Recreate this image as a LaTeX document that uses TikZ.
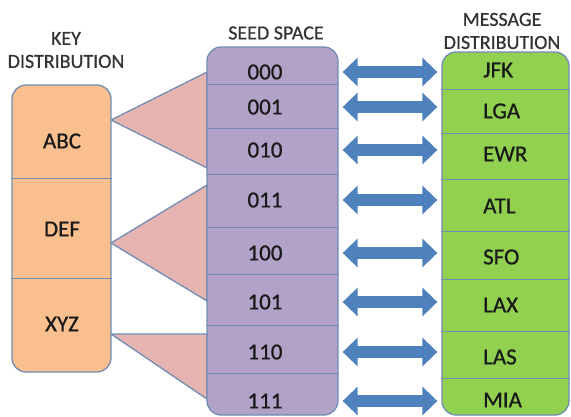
\documentclass[tikz,border=0pt]{standalone}
\usepackage{fontspec}
\setmainfont{Carlito}
\newfontfamily\heavyfont{Carlito}[FakeBold=0.7]
\usetikzlibrary{arrows.meta}
\definecolor{keyfill}{HTML}{F9BF8F}
\definecolor{seedfill}{HTML}{B3A2C7}
\definecolor{msgfill}{HTML}{92D050}
\definecolor{edgeblue}{HTML}{6F8DB5}
\definecolor{wedgepink}{HTML}{E6B4B0}
\definecolor{arrowblue}{HTML}{4F81BD}
\definecolor{titlegray}{HTML}{333333}
\tikzstyle{biarrow} = [line width=12pt,draw=arrowblue,{Triangle[length=15pt,width=28pt]}-{Triangle[length=15pt,width=28pt]}]

\begin{document}
\begin{tikzpicture}
        [
            x=1pt,y=-1pt,
            column/.style={rectangle,rounded corners=14pt,draw=edgeblue,line width=1.3pt},
            cell/.style={font=\heavyfont\fontsize{23}{25}\selectfont,text=black!90},
            title/.style={font=\heavyfont\fontsize{20}{23}\selectfont,text=titlegray,align=center},
            divider/.style={draw=edgeblue,line width=1pt},
            wedge/.style={fill=wedgepink,draw=edgeblue,line width=1.3pt,line join=round},
        ]
    \useasboundingbox (0,0) rectangle (571,416);

    % fans from keys to seeds
    \draw[wedge] (111,120) -- (207,72) -- (207,168) -- cycle;
    \draw[wedge] (111,243) -- (207,185) -- (207,301) -- cycle;
    \draw[wedge] (111,334) -- (207,334) -- (207,399) -- cycle;

    % columns
    \node[column,fill=keyfill,minimum width=99pt,minimum height=287pt] (key) at (61.5,228.5){};
    \node[column,fill=seedfill,minimum width=131pt,minimum height=368pt] (seed) at (272.5,231){};
    \node[column,fill=msgfill,minimum width=127pt,minimum height=363pt] (msg) at (505.5,233.5){};

    \node[title] (keytitle) at (66,50){KEY\\DISTRIBUTION};
    \node[title] (seedtitle) at (276,33){SEED SPACE};
    \node[title] (msgtitle) at (502,31){MESSAGE\\DISTRIBUTION};

    \foreach \y in {178,278}
        \draw[divider] (key.west |- 0,\y) -- (key.east |- 0,\y);
    \foreach \y in {84,128,174,227,274,325,373}
        \draw[divider] (seed.west |- 0,\y) -- (seed.east |- 0,\y);
    \foreach \y in {89,133,179,231,279,331,378}
        \draw[divider] (msg.west |- 0,\y) -- (msg.east |- 0,\y);

    \node[cell] (abc) at (62,141){ABC};
    \node[cell] (def) at (62,229){DEF};
    \node[cell] (xyz) at (62,324){XYZ};

    \foreach \i/\lbl/\y in {0/000/72,1/001/107,2/010/150,3/011/200,4/100/253,5/101/302,6/110/352,7/111/401}
        \node[cell] (s\i) at (265,\y){\lbl};

    \foreach \i/\lbl/\y in {0/JFK/70,1/LGA/111,2/EWR/154,3/ATL/206,4/SFO/257,5/LAX/305,6/LAS/357,7/MIA/400}
        \node[cell,anchor=west,inner xsep=0pt] (m\i) at (483,\y){\lbl};

    \foreach \i in {0,...,7}
        \draw[biarrow] ([xshift=4pt]s\i -| seed.east) -- ([xshift=-4pt]s\i -| msg.west);
    \end{tikzpicture}
\end{document}
